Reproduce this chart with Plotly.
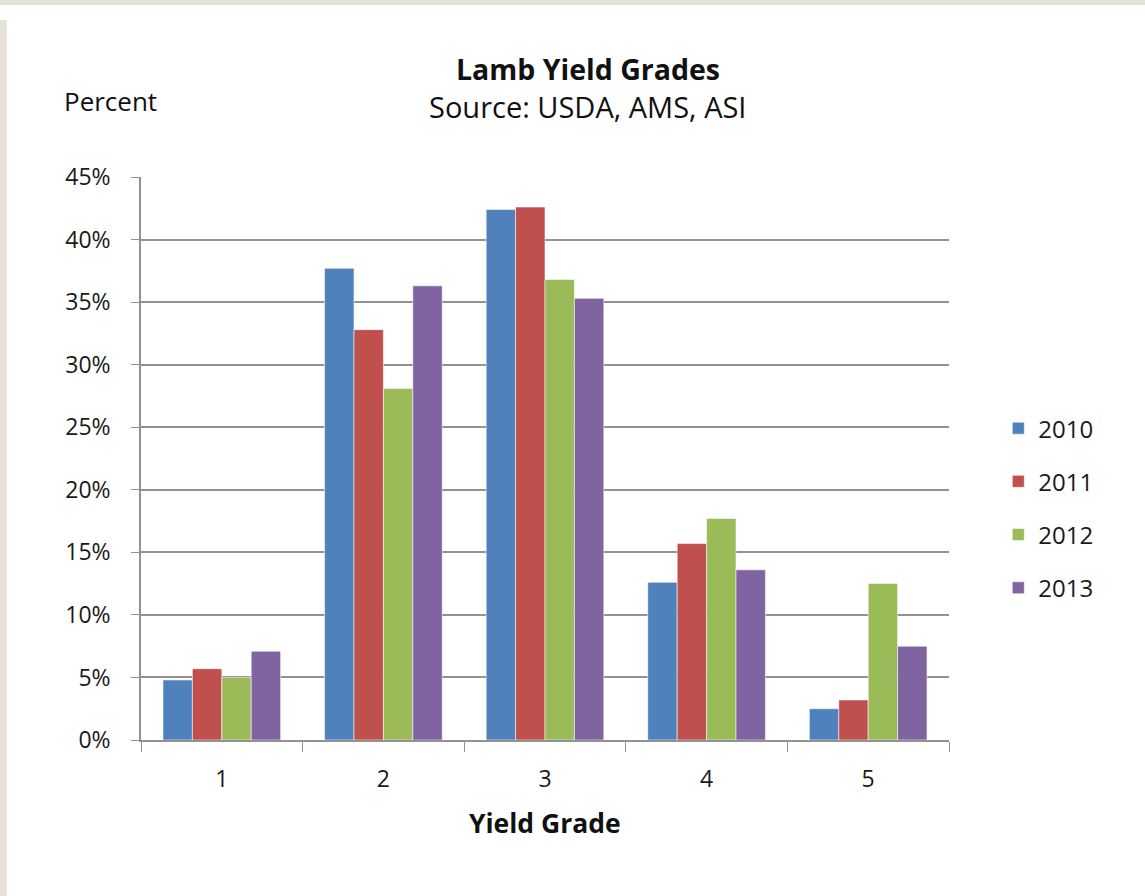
import plotly.graph_objects as go

# Lamb yield grade distribution by year (percent of carcasses)
grades = ["1", "2", "3", "4", "5"]
years = ["2010", "2011", "2012", "2013"]
pct_2010 = [4.8, 37.7, 42.4, 12.6, 2.5]
pct_2011 = [5.7, 32.8, 42.6, 15.7, 3.2]
pct_2012 = [5.0, 28.1, 36.8, 17.7, 12.5]
pct_2013 = [7.1, 36.3, 35.3, 13.6, 7.5]
series = [pct_2010, pct_2011, pct_2012, pct_2013]
colors = ["#4F81BD", "#C0504D", "#9BBB59", "#8064A2"]
y_ticks = [0, 5, 10, 15, 20, 25, 30, 35, 40, 45]
y_labels = [f"{v}%" for v in y_ticks]

FONT = "Open Sans"
INK = "#1a1a1a"
GRID = "#929292"

fig = go.Figure()
for i, (yr, vals) in enumerate(zip(years, series)):
    fig.add_trace(go.Bar(
        x=grades, y=vals, name=yr, legendgroup=yr,
        marker=dict(color=colors[i], line=dict(color="rgba(255,255,255,0.55)", width=1)),
    ))

fig.update_layout(
    width=1145, height=896,
    margin=dict(l=141, r=196, t=177, b=156, autoexpand=False),
    paper_bgcolor="white", plot_bgcolor="white",
    barmode="group", bargap=0.272, bargroupgap=0,
    font=dict(family=FONT, size=23, color=INK),
    showlegend=True,
    legend=dict(x=1.061, xanchor="left", y=0.412, yanchor="middle",
                font=dict(family=FONT, size=24, color=INK),
                tracegroupgap=19, bgcolor="rgba(0,0,0,0)"),
    xaxis=dict(
        type="category", tickson="boundaries", ticks="outside", ticklen=10,
        tickcolor=GRID, showline=True, linecolor=GRID, linewidth=1.5,
        showgrid=False, tickfont=dict(family=FONT, size=23, color=INK),
        ticklabelstandoff=18,
    ),
    yaxis=dict(
        range=[0, 45], tickvals=y_ticks, ticktext=y_labels, ticks="outside", ticklen=8,
        tickcolor=GRID, showline=True, linecolor=GRID, linewidth=1.5,
        showgrid=True, gridcolor=GRID, gridwidth=1.5, zeroline=False,
        tickfont=dict(family=FONT, size=23, color=INK),
        ticklabelstandoff=16,
    ),
)

# Titles and axis captions
fig.add_annotation(text="<b>Lamb Yield Grades</b>", xref="paper", yref="paper",
                   x=0.553, y=1.192, xanchor="center", yanchor="middle",
                   showarrow=False, font=dict(family=FONT, size=28.5, color="#111"))
fig.add_annotation(text="Source: USDA, AMS, ASI", xref="paper", yref="paper",
                   x=0.553, y=1.125, xanchor="center", yanchor="middle",
                   showarrow=False, font=dict(family=FONT, size=29, color="#111"))
fig.add_annotation(text="Percent", xref="paper", yref="paper",
                   x=-0.0977, y=1.135, xanchor="left", yanchor="middle",
                   showarrow=False, font=dict(family=FONT, size=26, color="#111"))
fig.add_annotation(text="<b>Yield Grade</b>", xref="paper", yref="paper",
                   x=0.5, y=-0.147, xanchor="center", yanchor="middle",
                   showarrow=False, font=dict(family=FONT, size=26.5, color="#111"))

# Beige frame strips along the top and left edges of the page
BEIGE = "#E6E2D8"
fig.add_shape(type="rect", xref="paper", yref="paper", xsizemode="pixel", ysizemode="pixel",
              xanchor=0, yanchor=0, x0=-141, x1=-134, y0=-160, y1=720,
              fillcolor=BEIGE, line=dict(width=0), layer="below")
fig.add_shape(type="rect", xref="paper", yref="paper", xsizemode="pixel", ysizemode="pixel",
              xanchor=0, yanchor=1, x0=-141, x1=1010, y0=172, y1=180,
              fillcolor=BEIGE, line=dict(width=0), layer="below")

fig.write_html("out.html")
